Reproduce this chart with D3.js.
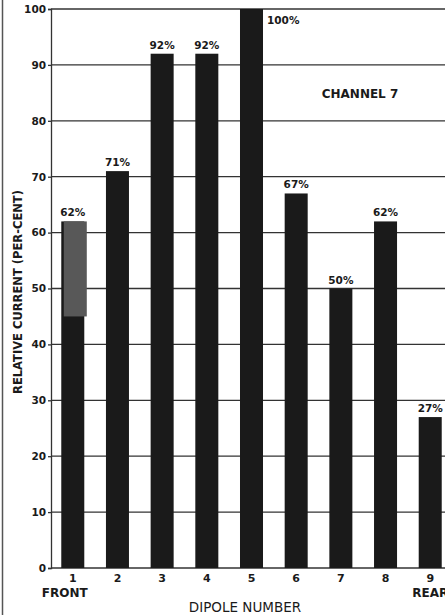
<!DOCTYPE html>
<html>
<head>
<meta charset="utf-8">
<script src="https://cdn.jsdelivr.net/npm/d3@7/dist/d3.min.js"></script>
<style>
  html, body { margin: 0; padding: 0; background: #fff; }
  svg { display: block; }
  text { font-family: "DejaVu Sans", sans-serif; font-weight: bold; fill: #1a1a1a; }
</style>
</head>
<body>
<svg id="chart" width="445" height="615"></svg>
<script>
const dipoles = ["1", "2", "3", "4", "5", "6", "7", "8", "9"];
const relativeCurrent = [62, 71, 92, 92, 100, 67, 50, 62, 27];
const valueLabels = ["62%", "71%", "92%", "92%", "100%", "67%", "50%", "62%", "27%"];
const yTicks = [0, 10, 20, 30, 40, 50, 60, 70, 80, 90, 100];
const endLabels = [{ dipole: "1", text: "FRONT" }, { dipole: "9", text: "REAR" }];
const patch = { dipole: "1", from: 45, to: 62 };

const svg = d3.select("#chart");
const W = 445, H = 615;
const m = { left: 51, top: 9, bottom: 47 };

const x = d3.scaleBand().domain(dipoles).range([51, 452]).paddingInner(0.485).paddingOuter(0.23);
const y = d3.scaleLinear().domain([0, 100]).range([H - m.bottom - 0, m.top]);

// scan edge line at the left
svg.append("line").attr("x1", 2.5).attr("x2", 2.5).attr("y1", 0).attr("y2", H)
  .attr("stroke", "#555").attr("stroke-width", 1.5);

// gridlines
svg.append("g").selectAll("line").data(yTicks).join("line")
  .attr("x1", m.left).attr("x2", W)
  .attr("y1", d => y(d)).attr("y2", d => y(d))
  .attr("stroke", "#333").attr("stroke-width", 1.3);

// y axis
const yAxis = d3.axisLeft(y).tickValues(yTicks).tickSize(3).tickPadding(2).tickFormat(d3.format("d"));
const gy = svg.append("g").attr("transform", `translate(${m.left},0)`).call(yAxis);
gy.select(".domain").attr("stroke", "#333").attr("stroke-width", 1.3);
gy.selectAll(".tick line").attr("stroke", "#333").attr("stroke-width", 1.3);
gy.selectAll(".tick text").style("font-size", "10.5px").style("font-family", "DejaVu Sans").style("font-weight", "bold").attr("fill", "#1a1a1a");

// bars
const data = dipoles.map((d, i) => ({ dipole: d, value: relativeCurrent[i], label: valueLabels[i] }));
svg.append("g").selectAll("rect").data(data).join("rect")
  .attr("x", d => x(d.dipole)).attr("width", x.bandwidth())
  .attr("y", d => y(d.value)).attr("height", d => y(0) - y(d.value))
  .attr("fill", "#1a1a1a");

// gray patch on bar 1
svg.append("rect")
  .attr("x", x(patch.dipole) + 2.5).attr("width", x.bandwidth())
  .attr("y", y(patch.to)).attr("height", y(patch.from) - y(patch.to))
  .attr("fill", "#585858");

// value labels
svg.append("g").selectAll("text").data(data).join("text")
  .attr("x", d => d.value >= 100 ? x(d.dipole) + x.bandwidth() + 4 : x(d.dipole) + x.bandwidth() / 2)
  .attr("y", d => d.value >= 100 ? y(d.value) + 15 : y(d.value) - 5)
  .attr("text-anchor", d => d.value >= 100 ? "start" : "middle")
  .style("font-size", "10.5px")
  .text(d => d.label);

// x axis labels
const gx = svg.append("g").attr("transform", `translate(0,${y(0)})`)
  .call(d3.axisBottom(x).tickSize(0).tickPadding(6));
gx.select(".domain").remove();
gx.selectAll(".tick text").style("font-size", "11px").style("font-family", "DejaVu Sans").style("font-weight", "bold").attr("fill", "#1a1a1a")
  .attr("dy", "0.71em");

svg.append("g").selectAll("text").data(endLabels).join("text")
  .attr("x", d => x(d.dipole) + x.bandwidth() / 2 - (d.text === "FRONT" ? 8 : 0))
  .attr("y", 597)
  .attr("text-anchor", "middle")
  .style("font-size", "12px")
  .text(d => d.text);

// axis titles
svg.append("text").attr("x", 245).attr("y", 612).attr("text-anchor", "middle")
  .style("font-size", "13.5px").style("font-weight", "normal").text("DIPOLE NUMBER");

svg.append("text").attr("transform", "translate(22,292) rotate(-90)").attr("text-anchor", "middle")
  .style("font-size", "11.5px").text("RELATIVE CURRENT (PER-CENT)");

svg.append("text").attr("x", 360).attr("y", 98).attr("text-anchor", "middle")
  .style("font-size", "12px").text("CHANNEL 7");
</script>
</body>
</html>
